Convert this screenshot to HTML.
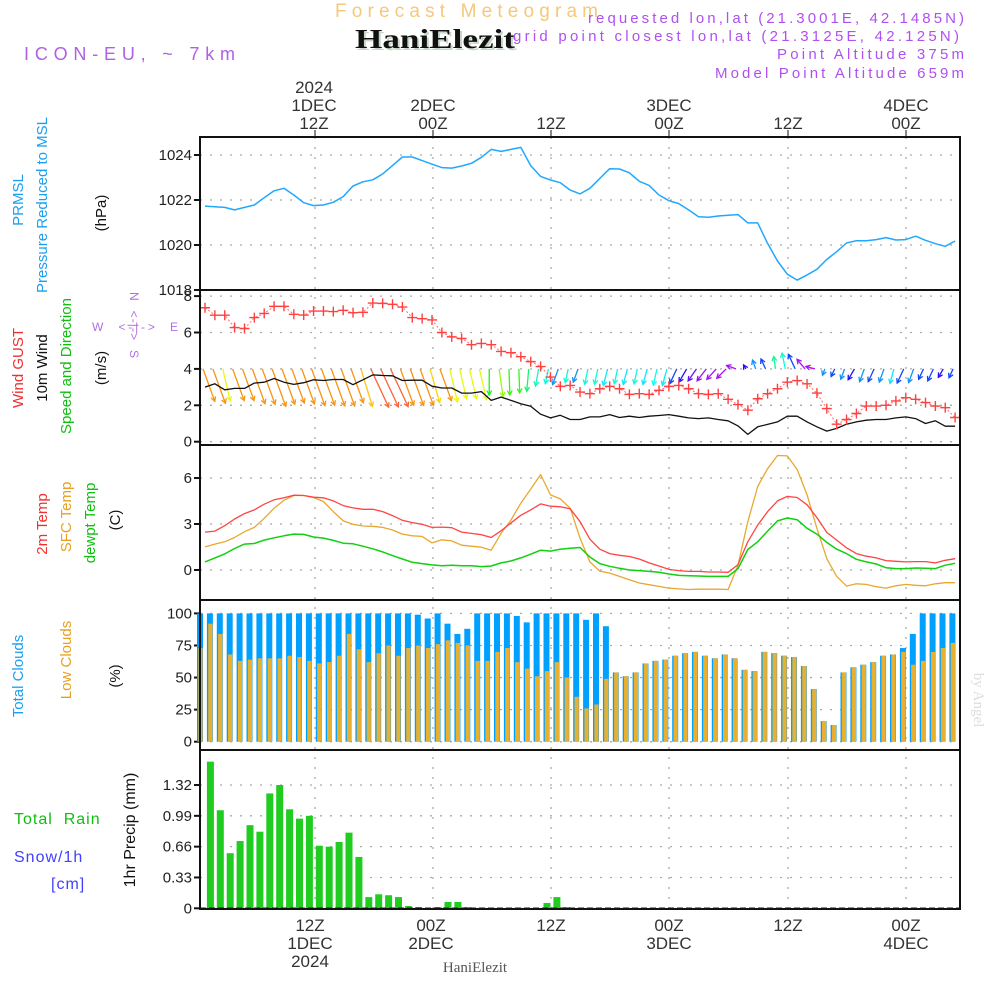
<!DOCTYPE html>
<html><head><meta charset="utf-8">
<style>
html,body{margin:0;padding:0;background:#fff;}
svg{display:block;font-family:"Liberation Sans",sans-serif;}
.tl{font-size:17px;fill:#333;text-anchor:middle;}
.yt{font-size:15px;fill:#222;text-anchor:end;}
</style></head>
<body>
<svg id="chart" width="1000" height="1000" viewBox="0 0 1000 1000" xmlns="http://www.w3.org/2000/svg">
<text x="335" y="17" font-size="19" fill="#f5c87a" textLength="263" lengthAdjust="spacing">Forecast Meteogram</text>
<text x="357" y="50" font-size="27" font-weight="bold" font-family="Liberation Serif,serif" fill="#c8d8c8" textLength="160" lengthAdjust="spacingAndGlyphs">HaniElezit</text>
<text x="355" y="48" font-size="27" font-weight="bold" font-family="Liberation Serif,serif" fill="#111" textLength="160" lengthAdjust="spacingAndGlyphs">HaniElezit</text>
<text x="24" y="60" font-size="18" fill="#b060e0" textLength="211" lengthAdjust="spacing">ICON-EU, ~ 7km</text>
<g font-size="15" fill="#b050f0">
<text x="588" y="23" textLength="376" lengthAdjust="spacing">requested lon,lat (21.3001E, 42.1485N)</text>
<text x="513" y="41" textLength="446" lengthAdjust="spacing">grid point closest lon,lat (21.3125E, 42.125N)</text>
<text x="777" y="59" textLength="187" lengthAdjust="spacing">Point Altitude 375m</text>
<text x="715" y="78" textLength="249" lengthAdjust="spacing">Model Point Altitude 659m</text>
</g>
<g>
<text class="tl" x="314" y="93">2024</text><text class="tl" x="314" y="111">1DEC</text><text class="tl" x="314" y="129">12Z</text>
<text class="tl" x="433" y="111">2DEC</text><text class="tl" x="433" y="129">00Z</text>
<text class="tl" x="551" y="129">12Z</text>
<text class="tl" x="669" y="111">3DEC</text><text class="tl" x="669" y="129">00Z</text>
<text class="tl" x="788" y="129">12Z</text>
<text class="tl" x="906" y="111">4DEC</text><text class="tl" x="906" y="129">00Z</text>
</g>
<g>
<text class="tl" x="310" y="931">12Z</text><text class="tl" x="310" y="949">1DEC</text><text class="tl" x="310" y="967">2024</text>
<text class="tl" x="431" y="931">00Z</text><text class="tl" x="431" y="949">2DEC</text>
<text class="tl" x="551" y="931">12Z</text>
<text class="tl" x="669" y="931">00Z</text><text class="tl" x="669" y="949">3DEC</text>
<text class="tl" x="788" y="931">12Z</text>
<text class="tl" x="906" y="931">00Z</text><text class="tl" x="906" y="949">4DEC</text>
</g>
<text x="475" y="972" font-size="15" fill="#555" text-anchor="middle" font-family="Liberation Serif,serif">HaniElezit</text>
<text transform="translate(974,700) rotate(90)" font-size="15" fill="#ddd" text-anchor="middle" font-family="Liberation Serif,serif">by Angel</text>

<g font-size="15" text-anchor="middle">
<text transform="translate(23,200) rotate(-90)" fill="#1aa0f0">PRMSL</text>
<text transform="translate(47,205) rotate(-90)" fill="#1aa0f0">Pressure Reduced to MSL</text>
<text transform="translate(106,213) rotate(-90)" fill="#111">(hPa)</text>
<text transform="translate(23,368) rotate(-90)" fill="#f03030">Wind GUST</text>
<text transform="translate(47,368) rotate(-90)" fill="#111">10m Wind</text>
<text transform="translate(71,366) rotate(-90)" fill="#10c010">Speed and Direction</text>
<text transform="translate(106,368) rotate(-90)" fill="#111">(m/s)</text>
<text transform="translate(47,524) rotate(-90)" fill="#f03030">2m Temp</text>
<text transform="translate(71,517) rotate(-90)" fill="#e8a020">SFC Temp</text>
<text transform="translate(95,523) rotate(-90)" fill="#10c010">dewpt Temp</text>
<text transform="translate(120,520) rotate(-90)" fill="#111">(C)</text>
<text transform="translate(23,676) rotate(-90)" fill="#1aa0f0">Total Clouds</text>
<text transform="translate(71,660) rotate(-90)" fill="#e8a020">Low Clouds</text>
<text transform="translate(120,676) rotate(-90)" fill="#111">(%)</text>
<text transform="translate(135,830) rotate(-90)" fill="#111" font-size="16">1hr Precip (mm)</text>
</g>
<text x="14" y="824" font-size="16" fill="#10c010" letter-spacing="1" xml:space="preserve">Total  Rain</text>
<text x="14" y="862" font-size="16" fill="#4040ff" letter-spacing="1">Snow/1h</text>
<text x="51" y="889" font-size="16" fill="#4040ff" letter-spacing="1">[cm]</text>
<g fill="#b070e0" font-size="12">
<text x="92" y="331" textLength="86" lengthAdjust="spacing" xml:space="preserve">W  &lt;-|-&gt;  E</text>
<text transform="translate(130,292) rotate(90)" textLength="66" lengthAdjust="spacing" xml:space="preserve">N  &lt;-|-&gt;  S</text>
</g>
<g id="plot"></g>
</svg>
<script>
const pressure = [1021.73,1021.70,1021.67,1021.56,1021.67,1021.78,1022.10,1022.41,1022.52,1022.22,
1021.88,1021.75,1021.78,1021.90,1022.15,1022.62,1022.81,1022.90,1023.16,1023.53,
1023.91,1023.91,1023.75,1023.59,1023.44,1023.42,1023.51,1023.63,1023.90,1024.25,
1024.16,1024.25,1024.34,1023.53,1023.05,1022.89,1022.77,1022.44,1022.27,1022.52,
1022.96,1023.39,1023.38,1023.21,1022.83,1022.65,1022.22,1021.97,1021.84,1021.56,
1021.26,1021.23,1021.29,1021.32,1021.35,1020.98,1020.98,1020.07,1019.29,1018.70,
1018.44,1018.67,1018.92,1019.36,1019.70,1020.09,1020.19,1020.19,1020.24,1020.33,
1020.22,1020.24,1020.39,1020.21,1020.06,1019.94,1020.18];
const gust = [7.36,6.95,6.95,6.27,6.22,6.82,7.05,7.44,7.44,7.0,
6.96,7.18,7.18,7.15,7.22,7.09,7.11,7.62,7.6,7.55,
7.4,6.82,6.76,6.69,6.0,5.76,5.67,5.33,5.4,5.33,
4.96,4.89,4.67,4.4,4.13,3.55,3.04,3.09,2.73,2.64,
2.91,3.04,2.91,2.6,2.64,2.6,2.82,3.04,3.09,2.91,
2.64,2.6,2.64,2.33,2.04,1.73,2.36,2.64,2.91,3.27,
3.36,3.18,2.67,1.82,0.96,1.22,1.55,1.96,1.96,2.0,
2.24,2.42,2.33,2.15,1.96,1.87,1.33];
const windSpeed = [3.0,3.18,2.85,2.93,2.93,3.22,3.27,3.47,3.27,3.15,
3.24,3.4,3.36,3.42,3.42,3.13,3.4,3.67,3.64,3.62,
3.36,3.38,3.38,3.05,2.95,2.95,2.67,2.67,2.75,2.27,
2.45,2.27,2.09,1.95,1.51,1.31,1.45,1.22,1.22,1.36,
1.36,1.49,1.33,1.4,1.33,1.4,1.44,1.49,1.4,1.31,
1.27,1.31,1.22,1.15,0.87,0.4,0.82,0.95,1.09,1.4,
1.4,1.09,0.82,0.58,0.73,0.96,1.09,1.18,1.22,1.22,
1.31,1.36,1.27,1.0,1.15,0.85,0.85];
const windToward = [160,160,167,160,160,160,160,160,160,160,
160,160,160,160,160,160,163,155,155,155,
160,160,160,164,160,167,167,167,167,180,
172,178,178,185,190,192,200,192,200,192,
192,195,192,195,192,195,193,195,205,210,
215,218,222,225,290,330,340,335,352,348,
335,320,285,200,205,200,210,200,205,200,
195,205,200,205,205,210,205];
const t2m = [2.47,2.54,2.89,3.33,3.68,3.92,4.29,4.58,4.71,4.88,
4.86,4.75,4.71,4.51,4.20,4.05,3.96,3.96,3.81,3.55,
3.24,3.09,2.98,2.78,2.80,2.76,2.47,2.39,2.30,2.12,
2.56,3.07,3.57,3.92,4.31,4.16,4.12,3.99,3.15,2.01,
1.36,1.07,0.96,0.88,0.72,0.46,0.26,0.04,-0.04,-0.09,
-0.09,-0.13,-0.13,-0.15,0.35,1.84,2.93,3.81,4.51,4.80,
4.73,4.25,3.42,2.45,1.95,1.45,1.07,0.90,0.79,0.61,
0.57,0.53,0.55,0.55,0.46,0.63,0.74];
const sfcTemp = [1.51,1.69,1.84,2.12,2.50,2.78,3.37,4.03,4.55,4.86,
4.86,4.73,4.47,3.81,3.20,2.98,2.87,2.85,2.78,2.61,
2.34,2.23,2.19,1.77,1.97,1.90,1.62,1.55,1.49,1.29,
2.39,3.26,4.36,5.28,6.22,4.90,4.64,4.03,2.06,0.53,
-0.07,-0.20,-0.42,-0.64,-0.85,-0.96,-1.07,-1.18,-1.23,-1.27,
-1.25,-1.25,-1.25,-1.27,0.31,3.15,5.45,6.61,7.47,7.44,
6.55,4.90,2.72,0.74,-0.42,-1.05,-0.90,-0.94,-1.09,-1.18,
-1.03,-0.94,-1.0,-1.03,-0.90,-0.83,-0.83];
const dewpt = [0.53,0.79,1.05,1.40,1.69,1.73,1.95,2.10,2.23,2.34,
2.32,2.15,2.08,1.93,1.75,1.71,1.55,1.38,1.18,0.94,
0.72,0.50,0.42,0.33,0.28,0.31,0.28,0.28,0.22,0.26,
0.46,0.59,0.79,1.03,1.29,1.23,1.36,1.42,1.47,0.85,
0.42,0.24,0.11,0,-0.04,-0.09,-0.15,-0.26,-0.35,-0.37,
-0.39,-0.42,-0.42,-0.42,0.09,1.34,1.84,2.54,3.20,3.39,
3.28,2.72,2.34,1.80,1.36,1.07,0.70,0.53,0.39,0.15,
0.09,0.09,0.13,0.11,0.09,0.31,0.44];
const totalClouds = [100,100,100,100,100,100,100,100,100,100,
100,100,100,100,100,100,100,100,100,100,
100,100,99,96,100,92,84,88,100,100,
100,100,98,93,100,100,100,100,100,95,
100,90,54,51,54,61,63,64,67,69,
70,67,65,68,65,56,55,70,69,67,
66,59,41,16,13,54,58,60,62,67,
68,73,84,100,100,100,100];
const lowClouds = [73,92,84,68,63,64,65,65,65,67,
66,63,61,62,67,84,72,62,69,75,
67,73,75,73,76,79,77,75,63,63,
70,73,62,57,51,55,62,50,35,26,
29,49,54,51,54,61,63,64,67,69,
70,67,65,68,65,56,55,70,69,67,
66,59,41,16,13,54,58,60,62,67,
68,70,60,63,70,73,77];
const precip = [0,1.57,1.05,0.59,0.72,0.89,0.82,1.23,1.32,1.06,
0.96,0.99,0.67,0.66,0.71,0.81,0.55,0.12,0.15,0.14,
0.12,0.025,0.014,0,0.014,0.068,0.068,0.014,0,0,
0,0,0,0,0,0.057,0.12,0.014,0,0,
0,0,0,0,0,0,0,0,0,0,0,0,0,0,0,0,0,0,0,0,0,0,0,0,0,0,0,0,0,0,0,0,0,0,0,0,0];
const pressureTicks = [1024,1022,1020,1018];
const windTicks = [8,6,4,2,0];
const tempTicks = [6,3,0];
const cloudTicks = [100,75,50,25,0];
const precipTicks = [1.32,0.99,0.66,0.33,0];
const timeGridX = [315,433,551,669,788,906];

const xl = k => 205 + 9.87 * k;
const xb = i => 197 + 9.9 * i;
const yP = v => 245 - (v - 1020) * 22.5;
const yW = v => 441.7 - v * 18.2;
const yT = v => 570 - v * 15.33;
const yC = v => 741.7 - v * 1.283;
const yR = v => 908.3 - v * 93.4;
const NS = "http://www.w3.org/2000/svg";
const plot = document.getElementById('plot');
function mk(tag, attrs, parent) {
  const e = document.createElementNS(NS, tag);
  for (const a in attrs) e.setAttribute(a, attrs[a]);
  (parent || plot).appendChild(e);
  return e;
}
function hline(y) {
  const l = mk('line', {x1: 200, x2: 960, y1: y, y2: y, stroke: '#aaa', 'stroke-width': 1.3, 'stroke-dasharray': '2,8'});
  
  
}
function ytick(y, label) {
  const t = mk('line', {x1: 194, x2: 200, y1: y, y2: y, stroke: '#111', 'stroke-width': 2});
  
  
  const tx = mk('text', {x: 192, y: y + 5, class: 'yt'});
  tx.textContent = label;
  
  
}
const panels = [[137, 290, pressureTicks, yP, v => v], [290, 445, windTicks, yW, v => v], [445, 600, tempTicks, yT, v => v], [600, 750, cloudTicks, yC, v => v], [750, 909, precipTicks, yR, v => v === 0 ? '0' : v.toFixed(2)]];
panels.forEach(p => {
  p[2].forEach(v => { const y = p[3](v); if (y > p[0] + 2 && y < p[1] - 2) hline(y); ytick(y, p[4](v)); });
});
timeGridX.forEach(x => {
  const v = mk('line', {x1: x, x2: x, y1: 137, y2: 909, stroke: '#aaa', 'stroke-width': 1.3, 'stroke-dasharray': '2,8'});
  
  
  const t1 = mk('line', {x1: x, x2: x, y1: 130, y2: 137, stroke: '#111', 'stroke-width': 1});
  
  
});
function poly(arr, sx, sy, color, w, name, dash) {
  const pts = arr.map((v, k) => sx(k).toFixed(1) + ',' + sy(v).toFixed(1)).join(' ');
  const attrs = {points: pts, fill: 'none', stroke: color, 'stroke-width': w, 'stroke-linejoin': 'round'};
  if (dash) attrs['stroke-dasharray'] = dash;
  const e = mk('polyline', attrs);
  
  
}
poly(pressure, xl, yP, '#20a8ff', 1.5, 'pressure-line');
windToward.forEach((dir, k) => {
  const len = 11.5 * windSpeed[k];
  const r = dir * Math.PI / 180;
  const s = Math.sin(r);
  let hue = 120 - 250 * s;
  hue = Math.max(0, Math.min(280, hue));
  const col = 'hsl(' + hue.toFixed(0) + ',95%,' + (hue < 20 ? 60 : 52) + '%)';
  const x0 = xl(k) - 2, y0 = yW(4);
  const x1 = x0 + len * s, y1 = y0 - len * Math.cos(r);
  const g = mk('g', {stroke: col, 'stroke-width': 1.3, fill: 'none'});
  
  
  mk('line', {x1: x0, y1: y0, x2: x1, y2: y1}, g);
  const a = Math.atan2(y1 - y0, x1 - x0), h = 5;
  mk('polyline', {points: (x1 - h * Math.cos(a - 0.5)) + ',' + (y1 - h * Math.sin(a - 0.5)) + ' ' + x1 + ',' + y1 + ' ' + (x1 - h * Math.cos(a + 0.5)) + ',' + (y1 - h * Math.sin(a + 0.5))}, g);
});
poly(windSpeed, xl, yW, '#111', 1.3, 'wind-speed-line');
poly(gust, xl, yW, '#ff7070', 1, 'gust-line', '2,2');
gust.forEach((v, k) => {
  const x = xl(k), y = yW(v);
  const m = mk('path', {d: 'M' + (x - 5) + ',' + y + 'h10M' + x + ',' + (y - 5) + 'v10', stroke: '#ff4040', 'stroke-width': 1.4});
  
  
});
poly(sfcTemp, xl, yT, '#e8a830', 1.3, 'sfc-temp-line');
poly(t2m, xl, yT, '#ff4444', 1.3, 't2m-line');
poly(dewpt, xl, yT, '#10d010', 1.5, 'dewpt-line');
totalClouds.forEach((v, i) => {
  const b = mk('rect', {x: xb(i), y: yC(v), width: 6, height: yC(0) - yC(v), fill: '#00a0ff'});
  
  
});
lowClouds.forEach((v, i) => {
  const b = mk('rect', {x: xb(i) + 1.3, y: yC(v), width: 4.3, height: yC(0) - yC(v), fill: '#e8b030'});
  
  
});
precip.forEach((v, i) => {
  if (v <= 0) return;
  const b = mk('rect', {x: xb(i), y: yR(v), width: 7, height: yR(0) - yR(v), fill: '#20cc20'});
  
  
});
const zl = mk('line', {x1: 200, x2: 960, y1: yR(0), y2: yR(0), stroke: '#222', 'stroke-width': 1.5, 'stroke-dasharray': '6,3'});


[[137, 290], [290, 445], [445, 600], [600, 750], [750, 909]].forEach(p => {
  const r = mk('rect', {x: 200, y: p[0], width: 760, height: p[1] - p[0], fill: 'none', stroke: '#111', 'stroke-width': 2});
  
  
});
</script>
</body></html>
